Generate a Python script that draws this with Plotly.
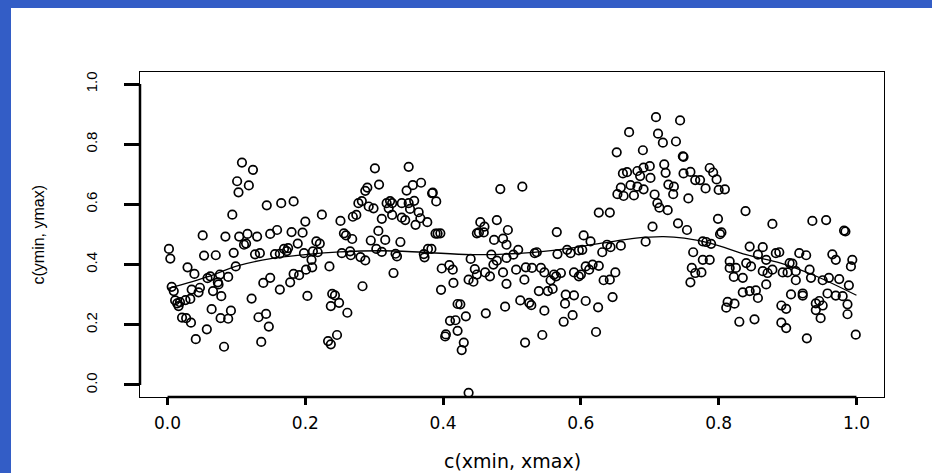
import plotly.graph_objects as go

# ---- data (x, y of each open circle) ----
x_part1 = [0.108,0.124,0.101,0.118,0.103, 0.144,0.165,0.183, 0.094, 0.224, 0.200,
    0.051,0.084,0.104,0.116,0.130,0.149,0.159,0.180,0.196,
    0.002,0.004,
    0.053,0.070,0.096,0.111,0.114,0.127,0.134,0.156,0.163,0.169,0.173,0.175,0.189,0.198,0.211,0.218,0.221,0.216,
    0.029,0.039,0.062,0.058,0.076,0.088,0.099,0.209,0.210,0.201,0.191,0.183,0.178,0.163,0.139,0.149,
    0.006,0.009,0.035,0.047,0.045,0.066,0.074,0.078,0.073,
    0.011,0.018,0.026,0.033,0.016,0.014,
    0.122,0.203,
    0.064,0.092,0.077,0.088,
    0.021,0.027,0.034,0.057,0.041,
    0.132,0.143,0.147,
    0.082,0.136]
y_part1 = [0.739,0.715,0.677,0.663,0.640, 0.597,0.604,0.610, 0.566, 0.566, 0.543,
    0.497,0.493,0.493,0.502,0.493,0.502,0.515,0.508,0.506,
    0.452,0.420,
    0.430,0.431,0.439,0.466,0.470,0.434,0.438,0.435,0.436,0.452,0.445,0.455,0.470,0.438,0.444,0.441,0.470,0.477,
    0.391,0.369,0.361,0.355,0.367,0.359,0.394,0.416,0.391,0.383,0.365,0.369,0.341,0.317,0.339,0.356,
    0.326,0.312,0.317,0.323,0.308,0.312,0.334,0.295,0.341,
    0.281,0.275,0.282,0.286,0.262,0.271,
    0.287,0.296,
    0.252,0.247,0.222,0.220,
    0.224,0.222,0.207,0.185,0.152,
    0.225,0.236,0.194,
    0.127,0.143]

x_part2 = [0.301,0.350,
    0.290,0.307,0.287,0.347,0.356,0.368,
    0.384,0.385,0.390,
    0.277,0.282,0.292,0.299,0.318,0.323,0.326,0.340,0.350,0.358,0.321,0.352,0.3645,0.311,0.326,0.340,0.345,0.367,0.360,0.377,
    0.269,0.274,0.251,
    0.256,0.259,0.268,
    0.306,0.295,0.316,0.338,
    0.389,0.392,0.396,
    0.253,0.266,0.265,0.280,0.287,0.303,0.311,0.331,0.333,0.372,0.378,0.383,0.373,
    0.235,0.328,0.283,
    0.239,0.243,0.249,0.237,0.261,
    0.246,0.233,0.237,
    0.398,0.409,0.414,0.415,0.397,
    0.421,0.425,0.433,0.410,0.418,0.404,0.403,0.421,0.430,0.427,
    0.437,
    0.483,
    0.454,0.460,0.478,0.449,0.452,0.459,0.474,0.487,0.494,0.492,
    0.440,0.470,0.478,0.473,0.492,0.446,0.461,0.468,0.449,0.487,0.437,0.444,0.492,0.462,0.490]
y_part2 = [0.720,0.725,
    0.656,0.666,0.645,0.646,0.664,0.672,
    0.637,0.639,0.610,
    0.604,0.611,0.593,0.587,0.604,0.611,0.604,0.604,0.604,0.612,0.587,0.585,0.574,0.552,0.565,0.556,0.548,0.554,0.532,0.541,
    0.559,0.565,0.545,
    0.504,0.497,0.485,
    0.512,0.480,0.482,0.475,
    0.503,0.503,0.504,
    0.438,0.431,0.444,0.425,0.414,0.452,0.442,0.436,0.427,0.435,0.452,0.452,0.424,
    0.394,0.372,0.328,
    0.303,0.298,0.273,0.262,0.240,
    0.166,0.146,0.135,
    0.387,0.398,0.383,0.339,0.316,
    0.269,0.268,0.228,0.213,0.215,0.168,0.161,0.180,0.141,0.116,
    -0.026,
    0.651,
    0.541,0.526,0.548,0.504,0.507,0.507,0.482,0.486,0.515,0.466,
    0.419,0.433,0.413,0.400,0.422,0.385,0.374,0.361,0.367,0.374,0.350,0.343,0.336,0.238,0.260]

x_part3 = [0.709,0.744,0.670,0.712,0.719,0.738,0.652,0.690,0.748,0.749,
    0.661,0.667,0.682,0.691,0.700,0.721,0.686,0.701,0.723,0.749,0.759,0.766,
    0.658,0.672,0.682,0.691,0.653,0.662,0.677,0.707,0.727,0.735,0.734,0.756,
    0.711,0.714,0.726,
    0.626,0.642,
    0.515,
    0.704,0.741,0.754,0.694,
    0.565,0.604,0.614,0.638,0.658,0.631,0.643,
    0.509,0.533,0.536,0.566,0.580,0.585,0.597,0.602,0.502,
    0.506,0.520,0.529,0.542,0.547,0.561,0.571,0.564,0.590,0.600,0.607,0.617,0.626,0.612,0.597,0.650,0.633,0.642,0.518,0.556,
    0.539,0.552,0.559,0.578,0.590,0.607,0.625,0.646,
    0.512,0.525,0.528,0.547,0.577,0.588,0.575,
    0.544,0.519,0.622,
    0.763,0.761,0.766,0.759]
y_part3 = [0.890,0.879,0.840,0.835,0.805,0.809,0.773,0.780,0.760,0.758,
    0.703,0.707,0.711,0.722,0.727,0.733,0.694,0.688,0.705,0.703,0.708,0.681,
    0.656,0.664,0.659,0.650,0.634,0.628,0.630,0.633,0.666,0.659,0.634,0.620,
    0.604,0.589,0.581,
    0.573,0.573,
    0.659,
    0.526,0.537,0.515,0.476,
    0.508,0.497,0.477,0.466,0.463,0.441,0.458,
    0.449,0.438,0.441,0.435,0.449,0.438,0.447,0.449,0.433,
    0.383,0.391,0.389,0.389,0.374,0.367,0.372,0.361,0.374,0.367,0.394,0.400,0.396,0.383,0.361,0.374,0.348,0.350,0.350,0.348,
    0.312,0.312,0.319,0.300,0.298,0.279,0.258,0.292,
    0.281,0.273,0.265,0.247,0.270,0.232,0.210,
    0.166,0.141,0.176,
    0.441,0.389,0.372,0.341]

x_part4 = [0.787,0.792,0.773,0.797,0.781,0.800,0.809,
    0.839,0.799,0.878,0.936,0.956,0.982,0.984,
    0.804,0.802,
    0.777,0.782,0.789,
    0.845,0.864,0.883,0.888,0.917,0.927,0.965,0.994,0.970,0.992,
    0.777,0.787,0.816,0.840,0.857,0.869,0.903,0.907,0.775,0.816,0.825,0.847,0.864,0.871,0.878,0.893,0.900,0.912,0.932,
    0.822,0.835,0.912,0.934,0.951,0.960,0.975,0.989,0.869,
    0.835,0.845,0.854,0.857,0.905,0.922,0.922,0.958,0.970,0.980,
    0.813,0.823,0.811,0.891,0.898,0.941,0.946,0.951,0.941,0.987,
    0.830,0.852,0.891,0.898,0.948,0.987,
    0.928,0.999]
y_part4 = [0.721,0.706,0.681,0.683,0.653,0.648,0.650,
    0.578,0.552,0.535,0.545,0.548,0.513,0.510,
    0.507,0.501,
    0.477,0.475,0.469,
    0.460,0.458,0.438,0.441,0.438,0.431,0.434,0.416,0.416,0.394,
    0.416,0.416,0.411,0.405,0.433,0.416,0.405,0.403,0.374,0.389,0.389,0.394,0.378,0.372,0.383,0.374,0.374,0.378,0.383,
    0.359,0.356,0.348,0.356,0.348,0.356,0.352,0.331,0.334,
    0.308,0.312,0.314,0.289,0.301,0.304,0.297,0.304,0.297,0.295,
    0.276,0.270,0.257,0.264,0.253,0.271,0.279,0.264,0.249,0.268,
    0.210,0.218,0.207,0.189,0.222,0.235,
    0.155,0.167]

# smooth (loess-like) curve
smooth_x = [0.0, 0.06, 0.10, 0.15, 0.20, 0.25, 0.31, 0.37, 0.44, 0.50,
            0.56, 0.63, 0.68, 0.72, 0.75, 0.79, 0.84, 0.89, 0.94, 1.0]
smooth_y = [0.320, 0.361, 0.395, 0.420, 0.433, 0.442, 0.446, 0.441, 0.433, 0.436,
            0.447, 0.471, 0.488, 0.493, 0.488, 0.470, 0.433, 0.405, 0.363, 0.298]

tick_vals = [0.0, 0.2, 0.4, 0.6, 0.8, 1.0]
tick_text = ["0.0", "0.2", "0.4", "0.6", "0.8", "1.0"]
x_title = "c(xmin, xmax)"
y_title = "c(ymin, ymax)"

xs = x_part1 + x_part2 + x_part3 + x_part4
ys = y_part1 + y_part2 + y_part3 + y_part4

fig = go.Figure()
fig.add_trace(go.Scatter(
    x=xs, y=ys, mode="markers",
    marker=dict(symbol="circle-open", size=8.5, color="black", line=dict(width=1.7)),
    hoverinfo="skip", showlegend=False))
fig.add_trace(go.Scatter(
    x=smooth_x, y=smooth_y, mode="lines",
    line=dict(color="black", width=1.3, shape="spline", smoothing=1.0),
    hoverinfo="skip", showlegend=False))

W, H = 932, 473
L, R, T, B = 140, 48, 72, 76
pw, ph = W - L - R, H - T - B
blue = "#335DC6"

shapes = [
    # blue frame (left and top bars)
    dict(type="rect", xref="paper", yref="paper",
         x0=-(L + 5) / pw, x1=-(L - 11) / pw, y0=-(B + 5) / ph, y1=1 + (T + 5) / ph,
         fillcolor=blue, line=dict(width=0), layer="above"),
    dict(type="rect", xref="paper", yref="paper",
         x0=-(L + 5) / pw, x1=1 + (R + 5) / pw, y0=1 + (T - 8) / ph, y1=1 + (T + 5) / ph,
         fillcolor=blue, line=dict(width=0), layer="above"),
    # R-style axis lines spanning the tick range
    dict(type="line", xref="paper", yref="y", x0=0, x1=0, y0=0, y1=1,
         line=dict(color="black", width=2.5)),
    dict(type="line", xref="x", yref="paper", x0=0, x1=1, y0=0, y1=0,
         line=dict(color="black", width=2.5)),
]

fig.update_layout(
    width=W, height=H, autosize=False,
    margin=dict(l=L, r=R, t=T, b=B, pad=0),
    paper_bgcolor="white", plot_bgcolor="white",
    shapes=shapes,
    annotations=[
        dict(text=x_title, xref="paper", yref="paper", x=0.5, y=0,
             xanchor="center", yanchor="middle", yshift=-64, showarrow=False,
             font=dict(family="DejaVu Sans", size=19, color="black")),
        dict(text=y_title, xref="paper", yref="paper", x=0, y=0.5,
             xanchor="center", yanchor="middle", xshift=-102, textangle=-90,
             showarrow=False,
             font=dict(family="Liberation Sans", size=16, color="black")),
    ],
)
fig.update_xaxes(
    range=[-0.04, 1.04], tickvals=tick_vals, ticktext=tick_text,
    ticks="outside", ticklen=7, tickwidth=2.5, tickcolor="black",
    showgrid=False, zeroline=False, showline=True, mirror=True,
    linecolor="black", linewidth=1, ticklabelstandoff=4,
    tickfont=dict(family="DejaVu Sans", size=17, color="black"))
fig.update_yaxes(
    range=[-0.04, 1.04], tickvals=tick_vals, ticktext=tick_text,
    ticks="outside", ticklen=15, tickwidth=2.5, tickcolor="black",
    showgrid=False, zeroline=False, showline=True, mirror=True,
    linecolor="black", linewidth=1, tickangle=-90, ticklabelstandoff=21,
    tickfont=dict(family="Liberation Sans", size=15, color="black"))

fig.write_html("out.html")
